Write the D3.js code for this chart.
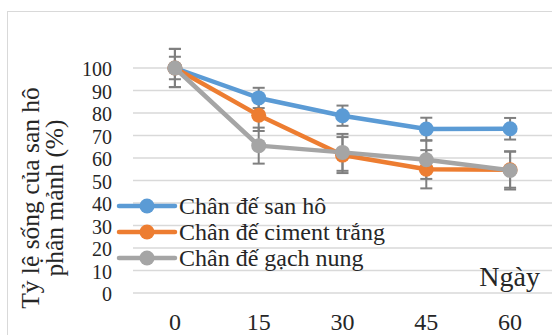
<!DOCTYPE html>
<html lang="vi">
<head>
<meta charset="UTF-8">
<script src="https://d3js.org/d3.v7.min.js"></script>
<style>
  body { margin: 0; background: #fff; }
  text { font-family: "Liberation Serif", "DejaVu Serif", "Times New Roman", serif; }
</style>
</head>
<body>
<svg width="552" height="335"></svg>
<script>
const days = ["0", "15", "30", "45", "60"];
const yTicks = [0, 10, 20, 30, 40, 50, 60, 70, 80, 90, 100];
const seriesNames = ["Chân đế san hô", "Chân đế ciment trắng", "Chân đế gạch nung"];
const sanHo = [100, 86.7, 78.8, 72.9, 73];
const cimentTrang = [100, 79, 61.3, 55, 54.8];
const gachNung = [100, 65.5, 62.5, 59.2, 54.5];
const errSanHo = [5, 4.5, 4.5, 5, 4.8];
const errCiment = [8.5, 7, 8, 8.5, 8];
const errGach = [8.5, 8, 8.2, 8.5, 8.5];
const colors = ["#5b9bd5", "#ed7d31", "#a5a5a5"];

const series = [
  {name: seriesNames[0], values: sanHo, err: errSanHo, color: colors[0]},
  {name: seriesNames[1], values: cimentTrang, err: errCiment, color: colors[1]},
  {name: seriesNames[2], values: gachNung, err: errGach, color: colors[2]}
];

const svg = d3.select("svg");
const serif = "'Liberation Serif', 'DejaVu Serif', serif";

// chart frame
svg.append("rect")
  .attr("x", 7.5).attr("y", 11.5)
  .attr("width", 560).attr("height", 340)
  .attr("fill", "none").attr("stroke", "#d9d9d9");

const x = d3.scaleBand().domain(days).range([133, 552]);
const y = d3.scaleLinear().domain([0, 100]).range([293, 68]);
const cx = d => x(d) + x.bandwidth() / 2;

// gridlines
svg.append("g").selectAll("line")
  .data(yTicks).join("line")
  .attr("x1", 133).attr("x2", 552)
  .attr("y1", d => y(d)).attr("y2", d => y(d))
  .attr("stroke", "#d9d9d9").attr("stroke-width", 1.5);

// y tick labels (kept a bit small so they don't collide)
svg.append("g").selectAll("text")
  .data(yTicks).join("text")
  .attr("x", 112).attr("y", d => y(d) + 8)
  .attr("text-anchor", "end")
  .attr("font-family", serif)
  .attr("font-size", 20).attr("fill", "#262626")
  .text(d => d);

// x tick labels
svg.append("g").selectAll("text")
  .data(days).join("text")
  .attr("x", d => cx(d)).attr("y", 330)
  .attr("text-anchor", "middle")
  .attr("font-family", serif)
  .attr("font-size", 24).attr("fill", "#262626")
  .text(d => d);

// y axis title
const title = svg.append("text")
  .attr("transform", "translate(40,198) rotate(-90)")
  .attr("text-anchor", "middle")
  .attr("font-family", serif)
  .attr("font-size", 25.5).attr("fill", "#262626");
title.append("tspan").attr("x", 0).attr("dy", -1).text("Tỷ lệ sống của san hô");
title.append("tspan").attr("x", 0).attr("dy", 24).text("phân mảnh (%)");

// x axis title
svg.append("text")
  .attr("x", 540).attr("y", 286)
  .attr("text-anchor", "end")
  .attr("font-family", serif)
  .attr("font-size", 28).attr("fill", "#262626")
  .text("Ngày");

// error bars
const eb = svg.append("g").attr("stroke", "#7f7f7f").attr("stroke-width", 2);
series.forEach(s => {
  s.values.forEach((v, i) => {
    const px = cx(days[i]);
    const lo = y(v - s.err[i]), hi = y(v + s.err[i]);
    eb.append("line").attr("x1", px).attr("x2", px).attr("y1", lo).attr("y2", hi);
    eb.append("line").attr("x1", px - 6).attr("x2", px + 6).attr("y1", lo).attr("y2", lo);
    eb.append("line").attr("x1", px - 6).attr("x2", px + 6).attr("y1", hi).attr("y2", hi);
  });
});

// lines and markers
const line = d3.line().x((v, i) => cx(days[i])).y(v => y(v));
series.forEach(s => {
  svg.append("path")
    .attr("d", line(s.values))
    .attr("fill", "none").attr("stroke", s.color)
    .attr("stroke-width", 4.5).attr("stroke-linejoin", "round");
  svg.append("g").selectAll("circle")
    .data(s.values).join("circle")
    .attr("cx", (v, i) => cx(days[i])).attr("cy", v => y(v))
    .attr("r", 7.5).attr("fill", s.color);
});

// legend
const legend = svg.append("g");
series.forEach((s, i) => {
  const ly = 206 + i * 26;
  legend.append("line")
    .attr("x1", 119).attr("x2", 175).attr("y1", ly).attr("y2", ly)
    .attr("stroke", s.color).attr("stroke-width", 4.5).attr("stroke-linecap", "round");
  legend.append("circle").attr("cx", 147).attr("cy", ly).attr("r", 7.5).attr("fill", s.color);
  legend.append("text")
    .attr("x", 179).attr("y", ly + 8)
    .attr("font-family", serif)
    .attr("font-size", 24).attr("fill", "#262626")
    .text(s.name);
});
</script>
</body>
</html>
